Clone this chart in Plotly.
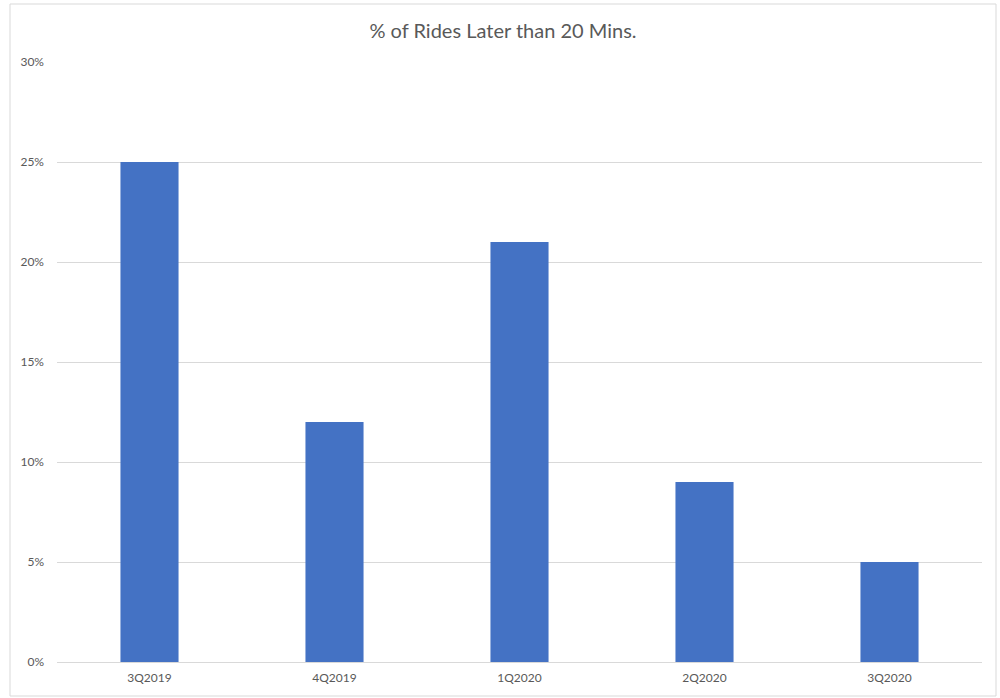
import plotly.graph_objects as go

categories = ["3Q2019", "4Q2019", "1Q2020", "2Q2020", "3Q2020"]
values = [0.25, 0.12, 0.21, 0.09, 0.05]
y_ticks = [0, 0.05, 0.10, 0.15, 0.20, 0.25, 0.30]
y_tick_labels = ["0%", "5%", "10%", "15%", "20%", "25%", "30%"]

fig = go.Figure(go.Bar(x=categories, y=values, marker=dict(color="#4472C4", line=dict(width=0))))

L, R, T, B = 57, 18, 62, 36
W, H = 1000, 698
pw, ph = W - L - R, H - T - B

fig.update_layout(
    width=W, height=H,
    margin=dict(l=L, r=R, t=T, b=B, pad=0),
    paper_bgcolor="white", plot_bgcolor="white",
    font=dict(family="Lato, Open Sans, sans-serif", color="#595959", size=12),
    title=dict(text="% of Rides Later than 20 Mins.", x=503 / W, xanchor="center", y=1 - 31 / H, yanchor="middle",
               font=dict(size=20, color="#595959")),
    bargap=0.686,
    showlegend=False,
    xaxis=dict(showgrid=False, showline=False, ticks="", ticklabelstandoff=7, tickfont=dict(size=12)),
    yaxis=dict(range=[0, 0.30], tickvals=y_ticks, ticktext=y_tick_labels, showgrid=True, gridcolor="#D9D9D9",
               gridwidth=1, zeroline=True, zerolinecolor="#D9D9D9", zerolinewidth=1, showline=False, ticks="",
               ticklabelstandoff=12, tickfont=dict(size=12)),
    shapes=[dict(type="rect", xref="paper", yref="paper",
                 x0=(10 - L) / pw, x1=(996 - L) / pw, y0=(H - B - 696) / ph, y1=(H - B - 4) / ph,
                 line=dict(color="#D9D9D9", width=1), fillcolor="rgba(0,0,0,0)", layer="below")],
)

fig.write_html("out.html")
